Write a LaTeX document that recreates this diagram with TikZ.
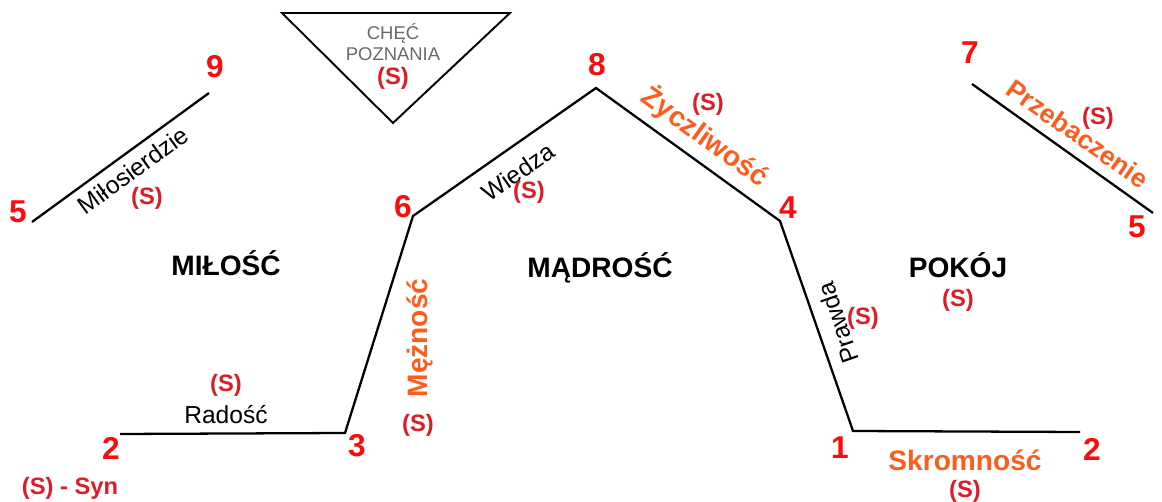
\documentclass[tikz,border=0pt]{standalone}
\usepackage{fontspec}
\setmainfont{Liberation Sans}
\usetikzlibrary{positioning}

\definecolor{numred}{RGB}{250,12,12}
\definecolor{synred}{RGB}{222,28,38}
\definecolor{virtue}{RGB}{255,92,28}
\definecolor{dimtext}{RGB}{105,105,105}

\tikzset{
    edge/.style={line width=1.3pt, line join=miter},
    num/.style={text=numred, inner sep=0pt,
        font=\fontsize{18}{18}\selectfont\bfseries},
    syn/.style={text=synred, inner sep=0pt,
        font=\fontsize{13.5}{14}\selectfont\bfseries},
    word/.style={inner sep=0pt, font=\fontsize{14}{14}\selectfont},
    virtue/.style={text=virtue, inner sep=0pt,
        font=\fontsize{16}{16}\selectfont\bfseries},
    realm/.style={inner sep=0pt, font=\fontsize{16}{16}\selectfont\bfseries},
}

\begin{document}
\begin{tikzpicture}[x=0.02cm, y=-0.02cm]
    \useasboundingbox (0,0) rectangle (1162,502);

    % corners of the long line
    \coordinate (a2) at (120,434);
    \coordinate (a3) at (345,433);
    \coordinate (a6) at (413,216);
    \coordinate (a8) at (596,88);
    \coordinate (a4) at (780,221);
    \coordinate (a1) at (853,431);
    \coordinate (b2) at (1080,432);
    % the two loose strokes
    \coordinate (l5) at (32,222);
    \coordinate (l9) at (209,93);
    \coordinate (r7) at (972,84);
    \coordinate (r5) at (1153,213);
    % triangle
    \coordinate (t1) at (282,13);
    \coordinate (t2) at (510,13);
    \coordinate (t3) at (393,123);

    \draw[edge] (a2) -- (a3) -- (a6) -- (a8) -- (a4) -- (a1) -- (b2);
    \draw[edge] (l5) -- (l9);
    \draw[edge] (r7) -- (r5);
    \draw[edge, line width=1.1pt] (t1) -- (t2) -- (t3) -- cycle;

    % numbers
    \node[num] (n2a) at (111,448) {2};
    \node[num] (n3) at (357,446) {3};
    \node[num] (n6) at (403,207) {6};
    \node[num] (n8) at (597,65) {8};
    \node[num] (n4) at (788,208) {4};
    \node[num] (n1) at (840,448) {1};
    \node[num] (n2b) at (1092,449) {2};
    \node[num] (n5a) at (18,212) {5};
    \node[num] (n9) at (215,67) {9};
    \node[num] (n7) at (970,53) {7};
    \node[num] (n5b) at (1137,227) {5};

    % the three realms
    \node[realm] (milosc) at (226,263) {MIŁOŚĆ};
    \node[realm] (madrosc) at (600,268) {MĄDROŚĆ};
    \node[realm] (pokoj) at (958,265) {POKÓJ};
    \node[syn, below=6pt of pokoj] (s-pokoj) {(S)};

    % labels along the strokes
    \node[word] (radosc) at (226,415) {Radość};
    \node[syn, above=5pt of radosc] (s-radosc) {(S)};
    \node[virtue, rotate=90] (meznosc) at (420,338) {Mężność};
    \node[syn] (s-meznosc) at (418,425) {(S)};
    \node[word, rotate=35] (wiedza) at (518,172) {Wiedza};
    \node[syn] (s-wiedza) at (529,192) {(S)};
    \node[virtue, rotate=-36] (zyczl) at (705,137) {Życzliwość};
    \node[syn] (s-zyczl) at (708,104) {(S)};
    \node[word, rotate=109] (prawda) at (838,323) {Prawda};
    \node[syn] (s-prawda) at (863,318) {(S)};
    \node[virtue] (skromn) at (965,460) {Skromność};
    \node[syn, below=5pt of skromn] (s-skromn) {(S)};
    \node[word, rotate=36] (milos) at (133,170) {Miłosierdzie};
    \node[syn] (s-milos) at (147,198) {(S)};
    \node[virtue, font=\fontsize{15}{15}\selectfont\bfseries, rotate=-35]
        (przeb) at (1078,134) {Przebaczenie};
    \node[syn] (s-przeb) at (1098,118) {(S)};

    % inside the triangle
    \node[text=dimtext, font=\fontsize{10.5}{11.5}\selectfont, align=center,
        inner sep=0pt] (chec) at (393,42) {CHĘĆ\\POZNANIA};
    \node[syn] (s-chec) at (393,78) {(S)};

    \node[syn] (legend) at (70,488) {(S) - Syn};
\end{tikzpicture}
\end{document}
